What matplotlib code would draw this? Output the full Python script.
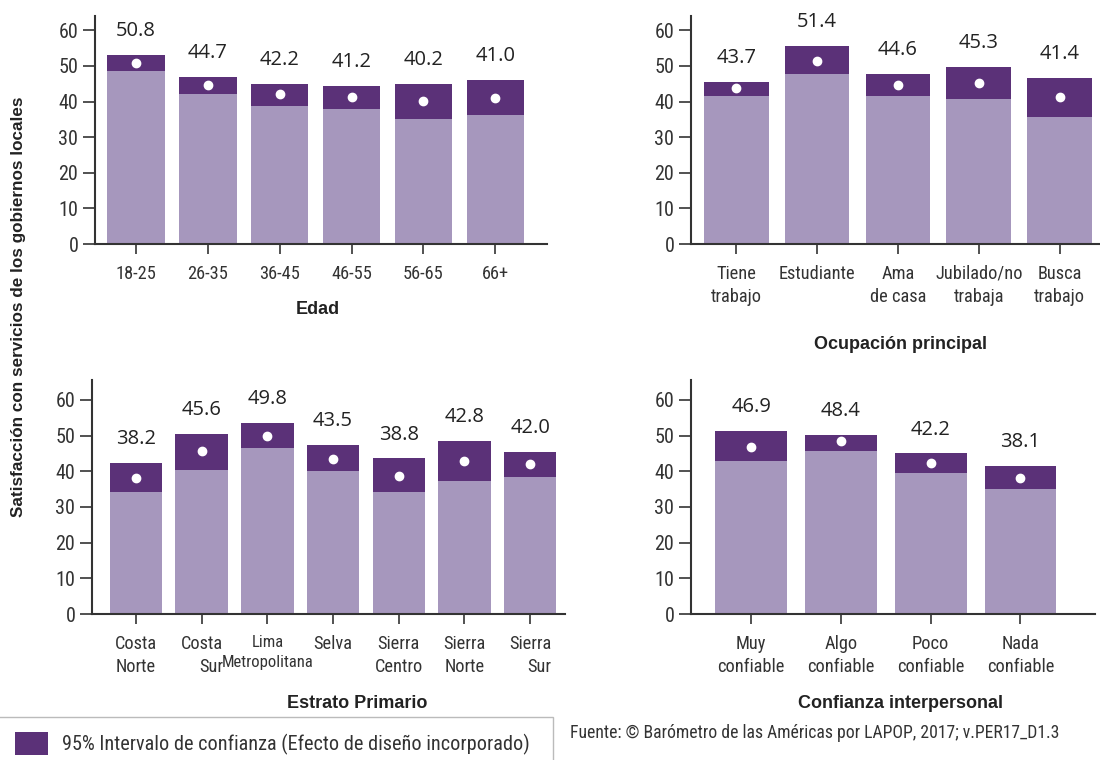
import matplotlib
matplotlib.use('Agg')
from matplotlib import pyplot as plt
from matplotlib import font_manager
from matplotlib.patches import Rectangle
import numpy as np

LIGHT = '#A697BD'
DARK = '#5B3178'
TXT = '#333333'

# Edad #
edad_cats = ['18-25', '26-35', '36-45', '46-55', '56-65', '66+']
edad_mean = [50.8, 44.7, 42.2, 41.2, 40.2, 41.0]
edad_low = [48.6, 42.1, 38.8, 37.9, 35.1, 36.3]
edad_high = [53.1, 46.9, 45.0, 44.3, 45.0, 46.1]

# Ocupacion principal #
ocup_cats = ['Tiene\ntrabajo', 'Estudiante', 'Ama\nde casa', 'Jubilado/no\ntrabaja', 'Busca\ntrabajo']
ocup_mean = [43.7, 51.4, 44.6, 45.3, 41.4]
ocup_low = [41.6, 47.8, 41.6, 40.7, 35.7]
ocup_high = [45.5, 55.6, 47.8, 49.7, 46.6]

# Estrato primario #
estr_cats = ['Costa\nNorte', 'Costa\nSur', 'Lima\nMetropolitana', 'Selva', 'Sierra\nCentro', 'Sierra\nNorte', 'Sierra\nSur']
estr_mean = [38.2, 45.6, 49.8, 43.5, 38.8, 42.8, 42.0]
estr_low = [34.3, 40.5, 46.6, 40.2, 34.3, 37.4, 38.5]
estr_high = [42.4, 50.6, 53.6, 47.5, 43.6, 48.6, 45.5]

# Confianza interpersonal #
conf_cats = ['Muy\nconfiable', 'Algo\nconfiable', 'Poco\nconfiable', 'Nada\nconfiable']
conf_mean = [46.9, 48.4, 42.2, 38.1]
conf_low = [43.0, 45.8, 39.6, 35.1]
conf_high = [51.4, 50.3, 45.0, 41.6]


# Picking a narrow font that is really installed #
def pick_narrow():
    fonts = font_manager.fontManager.ttflist
    names = {f.name for f in fonts}
    for n in ['Roboto Condensed', 'Liberation Sans Narrow', 'Open Sans Condensed']:
        if n in names:
            return dict(family=n), 1.0
    for f in fonts:
        if f.name == 'DejaVu Sans' and str(f.stretch) in ('condensed', 'semi-condensed'):
            return dict(family='DejaVu Sans', stretch='condensed'), 0.92
    return dict(family='Liberation Sans'), 0.92


NARROW, SCALE = pick_narrow()
LABEL = ['Open Sans', 'DejaVu Sans']
BOLD = ['Liberation Sans', 'DejaVu Sans']

W, H = 1100, 760


def fx(px):
    return px / W


def fy(py):
    return 1 - py / H


def panel(fig, box, cats, mean, low, high, xlim, ytop, title, title_xy,
          right_align=(), small=()):
    left, top, right, bottom = box
    ax = fig.add_axes([fx(left), fy(bottom), fx(right - left), fy(top) - fy(bottom)])
    x = np.arange(len(cats))
    low = np.array(low)
    high = np.array(high)
    ax.bar(x, low, width=0.8, color=LIGHT, zorder=2)
    ax.bar(x, high - low, bottom=low, width=0.8, color=DARK, zorder=2)
    ax.plot(x, mean, 'o', color='white', markersize=6, zorder=3)
    for xi, hi, m in zip(x, high, mean):
        ax.annotate(f'{m:.1f}', (xi, hi), xytext=(0, 10), textcoords='offset points',
                    ha='center', va='bottom', fontsize=14.5, color='#222222', family=LABEL)
    ax.set_xlim(*xlim)
    ax.set_ylim(0, ytop)
    ax.set_yticks(np.arange(0, 61, 10))
    ax.set_xticks(x)
    ax.set_xticklabels(cats)
    for i, lab in enumerate(ax.get_xticklabels()):
        lab.set(**NARROW)
        lab.set_fontsize((12 if i in small else 13.2) * SCALE)
        lab.set_color(TXT)
        lab.set_linespacing(1.4)
        if i in right_align:
            lab.set_multialignment('right')
    for lab in ax.get_yticklabels():
        lab.set(**NARROW)
        lab.set_fontsize(14.5 * SCALE)
        lab.set_color(TXT)
    ax.tick_params(axis='x', length=7, width=1.2, color=TXT, pad=8)
    ax.tick_params(axis='y', length=9, width=1.2, color=TXT, pad=3)
    for s in ['top', 'right']:
        ax.spines[s].set_visible(False)
    for s in ['left', 'bottom']:
        ax.spines[s].set_linewidth(1.5)
        ax.spines[s].set_color(TXT)
    fig.text(fx(title_xy[0]), fy(title_xy[1]), title, ha='center', va='center',
             fontsize=13, fontweight='bold', family=BOLD, color='#222222')
    return ax


fig = plt.figure(figsize=(11, 7.6), dpi=100)

panel(fig, (95, 16, 547, 244), edad_cats, edad_mean, edad_low, edad_high,
      (-0.57, 5.72), 64, 'Edad', (318, 309))
panel(fig, (691, 16, 1100, 244), ocup_cats, ocup_mean, ocup_low, ocup_high,
      (-0.56, 4.5), 64, 'Ocupación principal', (900, 344))
panel(fig, (92, 380, 565, 614), estr_cats, estr_mean, estr_low, estr_high,
      (-0.67, 6.53), 65.6, 'Estrato Primario', (357, 703), right_align=(1, 6), small=(2,))
panel(fig, (691, 380, 1095, 614), conf_cats, conf_mean, conf_low, conf_high,
      (-0.67, 3.83), 65.6, 'Confianza interpersonal', (900, 703))

fig.text(fx(19), fy(307), 'Satisfacción con servicios de los gobiernos locales',
         rotation=90, ha='center', va='center', fontsize=12.3, fontweight='bold',
         family=BOLD, color='#222222')

# Legend box #
fig.patches.append(Rectangle((fx(-2), fy(770)), fx(555), fy(717) - fy(770),
                             transform=fig.transFigure, facecolor='white',
                             edgecolor='#BBBBBB', linewidth=1))
fig.patches.append(Rectangle((fx(15), fy(755)), fx(33), fy(732) - fy(755),
                             transform=fig.transFigure, facecolor=DARK, edgecolor='none'))
leg = fig.text(fx(62), fy(744), '95% Intervalo de confianza (Efecto de diseño incorporado)',
               ha='left', va='center', fontsize=14.6 * SCALE, color=TXT)
leg.set(**NARROW)
src = fig.text(fx(570), fy(733), 'Fuente: © Barómetro de las Américas por LAPOP, 2017; v.PER17_D1.3',
               ha='left', va='center', fontsize=12.7 * SCALE, color=TXT)
src.set(**NARROW)

fig.savefig('out.png', dpi=100)
